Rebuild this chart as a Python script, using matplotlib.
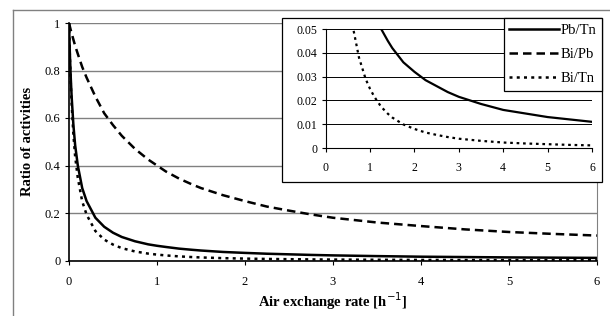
import matplotlib
matplotlib.use("Agg")
import matplotlib.pyplot as plt
from matplotlib.lines import Line2D
from matplotlib.patches import Rectangle

# air exchange rate [1/h]
rate = [0, 0.01, 0.02, 0.03, 0.05, 0.07, 0.1, 0.15, 0.2, 0.3, 0.4, 0.5, 0.6, 0.75,
        0.9, 1, 1.1, 1.25, 1.4, 1.5, 1.75, 2, 2.25, 2.5, 2.75, 3, 3.5, 4, 4.5, 5, 5.5, 6]
pb_tn = [1, 0.87, 0.77, 0.69, 0.57, 0.485, 0.40, 0.305, 0.25, 0.18, 0.142, 0.117,
         0.099, 0.081, 0.068, 0.062, 0.057, 0.050, 0.045, 0.042, 0.036, 0.032,
         0.0285, 0.026, 0.0235, 0.0215, 0.0185, 0.016, 0.0145, 0.013, 0.012, 0.011]
bi_pb = [1, 0.985, 0.97, 0.957, 0.93, 0.904, 0.87, 0.815, 0.77, 0.69, 0.62, 0.57,
         0.525, 0.47, 0.425, 0.40, 0.375, 0.345, 0.32, 0.305, 0.275, 0.25,
         0.227, 0.21, 0.194, 0.18, 0.16, 0.145, 0.131, 0.12, 0.112, 0.105]
bi_tn = [1, 0.857, 0.747, 0.66, 0.53, 0.438, 0.348, 0.249, 0.193, 0.124, 0.088,
         0.067, 0.052, 0.038, 0.029, 0.0248, 0.0214, 0.0173, 0.0144, 0.0128,
         0.0099, 0.008, 0.0065, 0.0055, 0.0046, 0.0039, 0.003, 0.0023, 0.0019,
         0.0016, 0.0013, 0.0011]

series = [
    ("Pb/Tn", pb_tn, None),
    ("Bi/Pb", bi_pb, (3.4, 2.0)),
    ("Bi/Tn", bi_tn, (1.2, 1.7)),
]

plt.rcParams["font.family"] = ["Liberation Serif", "DejaVu Serif"]

W, H = 610, 316
fig = plt.figure(figsize=(W / 100, H / 100), dpi=100)


def px(x0, y0, x1, y1):
    return [x0 / W, 1 - y1 / H, (x1 - x0) / W, (y1 - y0) / H]


# outer chart frame
fig.add_artist(Line2D([13 / W, 13 / W], [0, 1 - 10 / H], color="#808080", lw=1))
fig.add_artist(Line2D([13 / W, 1], [1 - 10 / H, 1 - 10 / H], color="#808080", lw=1))

ax = fig.add_axes(px(69, 23, 597, 260.5), zorder=0)
for name, vals, dash in series:
    ln, = ax.plot(rate, vals, color="black", lw=1.8, label=name)
    if dash:
        ln.set_dashes(dash)
ax.set_xlim(0, 6)
ax.set_ylim(0, 1)
ax.set_xticks(range(7))
ax.set_yticks([0, 0.2, 0.4, 0.6, 0.8, 1])
ax.set_yticklabels(["0", "0.2", "0.4", "0.6", "0.8", "1"])
ax.yaxis.grid(True, color="#808080", lw=1)
ax.set_axisbelow(True)
ax.spines["top"].set_visible(False)
ax.spines["right"].set_color("#808080")
for s in ("left", "bottom"):
    ax.spines[s].set_linewidth(1.2)
ax.tick_params(labelsize=9, length=3, pad=3)
ax.tick_params(axis="x", pad=8)
ax.set_xlabel("Air exchange rate [h$^{-1}$]", fontsize=10.5, fontweight="bold", labelpad=2)
ax.set_ylabel("Ratio of activities", fontsize=10.5, fontweight="bold", labelpad=8)

# inset frame
fig.add_artist(Rectangle((282 / W, 1 - 182 / H), 320 / W, 164 / H,
                         facecolor="white", edgecolor="black", lw=0.9,
                         transform=fig.transFigure, zorder=1))

ins = fig.add_axes(px(325.7, 29, 592, 148), zorder=2)
ins.patch.set_alpha(0)
for name, vals, dash in series:
    ln, = ins.plot(rate, vals, color="black", lw=1.6)
    if dash:
        ln.set_dashes(dash)
ins.set_xlim(0, 6)
ins.set_ylim(0, 0.05)
ins.set_xticks(range(7))
ins.set_yticks([0, 0.01, 0.02, 0.03, 0.04, 0.05])
ins.set_yticklabels(["0", "0.01", "0.02", "0.03", "0.04", "0.05"])
ins.yaxis.grid(True, color="black", lw=0.7)
ins.set_axisbelow(True)
ins.spines["top"].set_visible(False)
ins.spines["right"].set_visible(False)
ins.tick_params(labelsize=8.5, length=3, pad=3)
ins.tick_params(axis="x", pad=7)

handles, labels = ax.get_legend_handles_labels()
leg = fig.legend(handles, labels, loc="upper right",
                 bbox_to_anchor=(602 / W, 1 - 18 / H), bbox_transform=fig.transFigure,
                 fancybox=False, framealpha=1, edgecolor="black", fontsize=10.5,
                 handlelength=3.4, handletextpad=0.1, borderpad=0.4,
                 labelspacing=0.75, borderaxespad=0)
leg.get_frame().set_linewidth(0.9)

fig.savefig("out.png", dpi=100)
